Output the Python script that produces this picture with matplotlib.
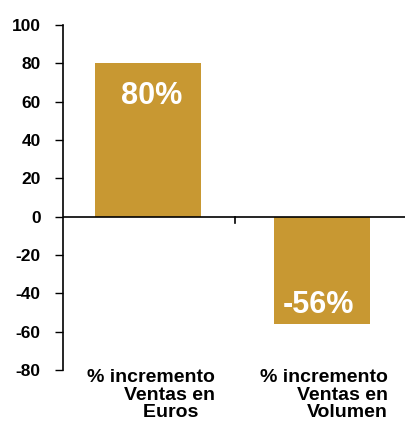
import matplotlib.pyplot as plt

plt.rcParams['font.family'] = ['Liberation Sans', 'DejaVu Sans']
plt.rcParams['font.weight'] = 'bold'

# data
categories = ['% incremento\nVentas en\nEuros   ', '% incremento\nVentas en\nVolumen']
values = [80, -56]
value_labels = ['80%', '-56%']
bar_widths = [0.615, 0.552]
yticks = [100, 80, 60, 40, 20, 0, -20, -40, -60, -80]

bar_color = '#C89832'

fig = plt.figure(figsize=(4.06, 4.28), dpi=100)
ax = fig.add_axes([0.155, 0.1355, 0.845, 0.806])

pos = list(range(len(values)))
ax.bar(pos, values, width=bar_widths, color=bar_color, zorder=2)

# percentage labels inside the bars
for x, v, lab in zip(pos, values, value_labels):
    if v >= 0:
        ax.annotate(lab, (x + 0.02, v), xytext=(0, -13), textcoords='offset points',
                    ha='center', va='top', color='white', fontsize=22, fontweight='bold')
    else:
        ax.annotate(lab, (x - 0.02, v), xytext=(0, 3), textcoords='offset points',
                    ha='center', va='bottom', color='white', fontsize=22, fontweight='bold')

# category captions below the plot area
ax.text(0.385, -79.5, categories[0], ha='right', va='top', fontsize=14,
        fontweight='bold', multialignment='right', linespacing=1.05)
ax.text(1.379, -79.5, categories[1], ha='right', va='top', fontsize=14,
        fontweight='bold', multialignment='right', linespacing=1.05)

# axis at zero with a separator tick between categories
ax.axhline(0, color='black', lw=1.2, zorder=3)
ax.plot([0.5, 0.5], [0, -3.5], color='black', lw=1.2, zorder=3)

ax.set_xlim(-0.489, 1.483)
ax.set_ylim(-80, 100)
ax.set_yticks(yticks)
ax.set_yticklabels([str(t) for t in yticks], fontsize=12.5, fontweight='bold')
ax.tick_params(axis='y', length=6, width=1, pad=10, direction='out')
ax.set_xticks([])
for s in ['top', 'right', 'bottom']:
    ax.spines[s].set_visible(False)
ax.spines['left'].set_linewidth(1.2)

plt.savefig('out.png', dpi=100)
